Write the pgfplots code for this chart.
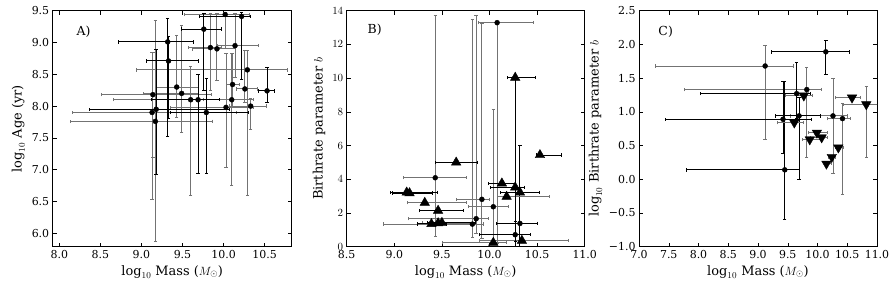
\documentclass[border=0pt]{standalone}
\usepackage{fontspec}
\setmainfont{DejaVu Serif}
\usepackage{pgfplots}
\usepackage{pgfplotstable}
\pgfplotsset{compat=1.18}

% ---------- Panel A ----------
\pgfplotstableread{
x y xl xh yl yh
10.02 9.44 9.53 10.31 8.90 9.47
9.84 8.92 9.57 9.98 8.25 9.45
9.92 8.90 9.62 10.14 8.41 9.45
10.14 8.95 9.93 10.43 8.45 9.45
10.29 8.57 8.94 10.78 6.60 8.88
9.43 8.30 9.18 9.70 7.82 9.11
10.11 8.34 10.03 10.20 8.00 8.83
10.26 8.27 10.16 10.41 8.05 8.88
9.14 8.18 8.51 9.85 7.20 8.85
9.49 8.20 9.02 9.70 7.58 9.26
9.60 8.10 8.66 10.25 6.60 8.63
10.10 8.10 9.76 10.37 6.75 8.83
10.03 7.98 9.35 10.36 7.04 8.83
10.33 8.00 10.07 10.52 7.64 8.12
9.13 7.90 8.16 10.16 6.54 8.85
9.17 7.76 8.14 9.87 5.87 9.34
}\tAgray
\pgfplotstableread{
x y xl xh yl yh
10.22 9.41 9.71 10.33 8.42 9.47
9.76 9.21 9.49 9.97 8.25 9.45
9.32 9.01 8.72 9.63 7.52 9.37
9.33 8.71 9.06 9.70 7.80 9.10
10.53 8.24 10.43 10.62 8.06 8.61
9.69 8.10 9.12 9.95 6.94 8.49
9.18 7.95 8.37 10.07 6.92 8.89
9.79 7.90 9.35 10.30 6.94 8.43
}\tAblack

% ---------- Panel B ----------
\pgfplotstableread{
x y xl xh yl yh
10.08 13.29 9.88 10.46 0.20 13.29
9.43 4.09 9.10 9.76 0.60 13.74
9.92 2.81 9.65 10.00 0.50 13.25
10.04 2.37 9.78 10.20 0.20 8.15
9.86 1.66 9.15 9.99 0.80 13.74
9.82 1.34 8.89 9.94 0.57 13.45
}\tBcgray
\pgfplotstableread{
x y xl xh yl yh
10.32 1.38 10.07 10.50 0.00 6.03
10.27 0.71 9.89 10.43 0.00 1.50
}\tBcblack
\pgfplotstableread{
x y xl xh yl yh
10.27 10.03 10.19 10.48 0.30 10.03
}\tBtvert
\pgfplotstableread{
x y xl xh
9.65 5.00 9.43 9.87
10.53 5.44 10.49 10.76
9.13 3.22 8.96 9.45
9.16 3.18 8.98 9.40
9.46 2.14 9.26 9.73
9.39 1.35 9.24 9.55
9.50 1.42 9.35 9.85
10.13 3.76 9.99 10.27
10.27 3.52 10.01 10.37
10.32 3.22 10.11 10.53
}\tBtblack
\pgfplotstableread{
x y xl xh
9.32 2.61 9.14 9.76
9.46 1.40 9.30 9.86
10.18 2.97 10.08 10.63
10.04 0.24 9.51 10.18
10.34 0.36 9.89 10.83
}\tBtgray

% ---------- Panel C ----------
\pgfplotstableread{
x y xl xh yl yh
9.12 1.68 7.28 9.60 0.59 1.99
9.82 1.33 7.77 10.07 0.33 1.66
10.26 0.94 9.55 10.50 0.09 1.49
10.42 0.90 10.16 10.56 -0.23 1.13
}\tCcgray
\pgfplotstableread{
x y xl xh yl yh
10.14 1.89 9.22 10.54 1.56 2.06
9.65 1.27 8.03 9.88 0.90 1.73
9.42 0.89 7.45 9.90 0.38 1.45
9.69 0.94 9.29 10.05 0.00 1.22
9.45 0.14 7.79 9.70 -0.59 1.45
}\tCcblack
\pgfplotstableread{
x y xl xh yl yh
10.82 1.11 10.43 11.10 0.33 1.38
}\tCtvert
\pgfplotstableread{
x y xl xh
9.77 1.24 9.46 9.92
10.58 1.21 10.30 10.72
9.61 0.84 9.32 9.77
9.87 0.59 9.74 10.05
9.99 0.69 9.84 10.16
10.07 0.62 9.88 10.16
10.35 0.47 10.31 10.44
10.24 0.33 10.18 10.31
10.15 0.23 10.12 10.24
}\tCtgray

\pgfplotsset{
  table/errs/.style={x=x, y=y,
    x error plus expr=\thisrow{xh}-\thisrow{x},
    x error minus expr=\thisrow{x}-\thisrow{xl},
    y error plus expr=\thisrow{yh}-\thisrow{y},
    y error minus expr=\thisrow{y}-\thisrow{yl}},
  table/xerrs/.style={x=x, y=y,
    x error plus expr=\thisrow{xh}-\thisrow{x},
    x error minus expr=\thisrow{x}-\thisrow{xl}},
  panel/.style={scale only axis, width=238bp, height=236bp, anchor=south west,
    tick align=inside, major tick length=4bp,
    tick style={black, line width=0.5pt},
    axis line style={line width=0.7pt},
    ticklabel style={font=\fontsize{11}{12}\selectfont},
    label style={font=\fontsize{13}{15}\selectfont},
    clip=true},
  both/.style={only marks, black,
    /pgfplots/error bars/x dir=both, /pgfplots/error bars/y dir=both,
    /pgfplots/error bars/x explicit, /pgfplots/error bars/y explicit,
    /pgfplots/error bars/error bar style={line width=0.95pt, #1},
    /pgfplots/error bars/error mark options={rotate=90, mark size=1.7pt, line width=0.95pt, #1}},
  xonly/.style={only marks, black,
    /pgfplots/error bars/x dir=both, /pgfplots/error bars/x explicit,
    /pgfplots/error bars/error bar style={line width=0.95pt, #1},
    /pgfplots/error bars/error mark options={rotate=90, mark size=1.7pt, line width=0.95pt, #1}},
}
\colorlet{eg}{black!55}

\begin{document}
\begin{tikzpicture}
\useasboundingbox (0,0) rectangle (894bp,284bp);

% ---- A ----
\begin{axis}[panel, at={(52.7bp,37.3bp)}, width=239bp,
  xmin=7.92, xmax=10.83, ymin=5.79, ymax=9.5,
  xtick={8,8.5,9,9.5,10,10.5}, xticklabels={8.0,8.5,9.0,9.5,10.0,10.5},
  ytick={6,6.5,7,7.5,8,8.5,9,9.5}, yticklabels={6.0,6.5,7.0,7.5,8.0,8.5,9.0,9.5},
  xlabel={$\log_{10}$ Mass ($M_\odot$)}, ylabel={$\log_{10}$ Age (yr)}]
\addplot[both=eg, mark=*, mark size=2.5pt] table[errs] {\tAgray};
\addplot[both=black, mark=*, mark size=2.5pt] table[errs] {\tAblack};
\node[anchor=west, font=\fontsize{12.5}{14}\selectfont] at (rel axis cs:0.085,0.91) {A)};
\end{axis}

% ---- B ----
\begin{axis}[panel, at={(346.7bp,37.3bp)},
  xmin=8.5, xmax=11, ymin=0, ymax=14,
  xtick={8.5,9,9.5,10,10.5,11}, xticklabels={8.5,9.0,9.5,10.0,10.5,11.0},
  ytick={0,2,4,6,8,10,12,14},
  xlabel={$\log_{10}$ Mass ($M_\odot$)}, ylabel={Birthrate parameter $b$}]
\addplot[both=eg, mark=*, mark size=2.5pt] table[errs] {\tBcgray};
\addplot[both=black, mark=*, mark size=2.5pt] table[errs] {\tBcblack};
\addplot[xonly=eg, mark=triangle*, mark size=5.5pt] table[xerrs] {\tBtgray};
\addplot[xonly=black, mark=triangle*, mark size=5.5pt] table[xerrs] {\tBtblack};
\addplot[both=black, mark=triangle*, mark size=5.5pt] table[errs] {\tBtvert};
\node[anchor=west, font=\fontsize{12.5}{14}\selectfont] at (rel axis cs:0.073,0.92) {B)};
\end{axis}

% ---- C ----
\begin{axis}[panel, at={(639bp,37.3bp)},
  xmin=7, xmax=11, ymin=-1, ymax=2.5,
  xtick={7,7.5,8,8.5,9,9.5,10,10.5,11},
  xticklabels={7.0,7.5,8.0,8.5,9.0,9.5,10.0,10.5,11.0},
  ytick={-1,-0.5,0,0.5,1,1.5,2,2.5},
  yticklabels={−1.0,−0.5,0.0,0.5,1.0,1.5,2.0,2.5},
  xlabel={$\log_{10}$ Mass ($M_\odot$)}, ylabel={$\log_{10}$ Birthrate parameter $b$}]
\addplot[both=eg, mark=*, mark size=2.5pt] table[errs] {\tCcgray};
\addplot[both=black, mark=*, mark size=2.5pt] table[errs] {\tCcblack};
\addplot[xonly=eg, mark=triangle*, mark size=5.5pt, mark options={rotate=180}] table[xerrs] {\tCtgray};
\addplot[both=eg, mark=triangle*, mark size=5.5pt, mark options={rotate=180}] table[errs] {\tCtvert};
\node[anchor=west, font=\fontsize{12.5}{14}\selectfont] at (rel axis cs:0.067,0.91) {C)};
\end{axis}
\end{tikzpicture}
\end{document}
